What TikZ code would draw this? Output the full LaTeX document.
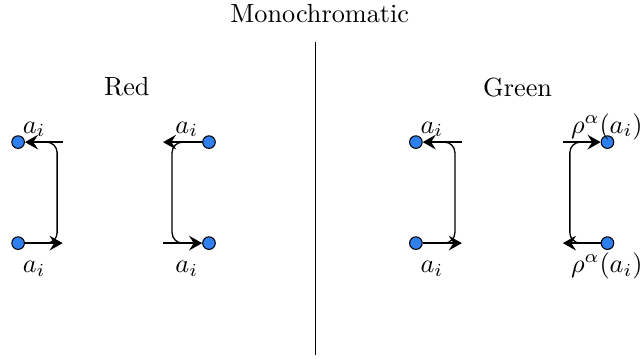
\documentclass[tikz,border=0pt]{standalone}
\usepackage{xcolor}
\usetikzlibrary{arrows.meta,positioning}
\definecolor{dotBlue}{HTML}{2F7FEF}
\tikzset{
  strand arrow/.style={-{Stealth[length=5pt,width=5.6pt,inset=1.8pt]},draw=black,line width=0.5pt},
  site dot/.style={circle,draw=black,fill=dotBlue,line width=0.4pt,
    inner sep=0pt,minimum size=4.8pt},
  bracket line/.style={draw=black,line width=0.5pt,rounded corners=4pt},
  site label/.style={anchor=base,inner sep=0pt}
}

\begin{document}
\begin{tikzpicture}[scale=0.933]
  \useasboundingbox (0,0) rectangle (9.23,5.14);
  \node (mono) at (4.59,4.95) {Monochromatic};
  \coordinate (divtop) at (4.53,4.53);
  \coordinate (divbot) at (4.53,0.04);
  \draw (divtop) -- (divbot);
  \node (red) at (1.82,3.89) {Red};
  \node (green) at (7.43,3.89) {Green};

  % red, left pair
  \node[site dot] (rlt) at (0.26,3.10) {};
  \node[site dot] (rlb) at (0.26,1.65) {};
  \coordinate (rltend) at (0.90,3.10);
  \coordinate (rlbend) at (0.90,1.65);
  \draw[bracket line] (0.68,3.10) -- (0.82,3.10) -- (0.82,1.65) -- (0.68,1.65);
  \draw[strand arrow] (rltend) -- (rlt);
  \draw[strand arrow] (rlb) -- (rlbend);
  \node[site label] (rltlab) at (0.49,3.23) {$a_i$};
  \node[site label] (rlblab) at (0.49,1.23) {$a_i$};

  % red, right pair
  \node[site dot] (rrt) at (3.00,3.10) {};
  \node[site dot] (rrb) at (3.00,1.65) {};
  \coordinate (rrtend) at (2.34,3.10);
  \coordinate (rrbend) at (2.34,1.65);
  \draw[bracket line] (2.62,3.10) -- (2.47,3.10) -- (2.47,1.65) -- (2.62,1.65);
  \draw[strand arrow] (rrt) -- (rrtend);
  \draw[strand arrow] (rrbend) -- (rrb);
  \node[site label] (rrtlab) at (2.68,3.23) {$a_i$};
  \node[site label] (rrblab) at (2.68,1.23) {$a_i$};

  % green, left pair
  \node[site dot] (glt) at (5.97,3.10) {};
  \node[site dot] (glb) at (5.97,1.65) {};
  \coordinate (gltend) at (6.63,3.10);
  \coordinate (glbend) at (6.63,1.65);
  \draw[bracket line] (6.39,3.10) -- (6.53,3.10) -- (6.53,1.65) -- (6.39,1.65);
  \draw[strand arrow] (gltend) -- (glt);
  \draw[strand arrow] (glb) -- (glbend);
  \node[site label] (gltlab) at (6.20,3.23) {$a_i$};
  \node[site label] (glblab) at (6.20,1.23) {$a_i$};

  % green, right pair
  \node[site dot] (grt) at (8.72,3.10) {};
  \node[site dot] (grb) at (8.72,1.65) {};
  \coordinate (grtend) at (8.08,3.10);
  \coordinate (grbend) at (8.08,1.65);
  \draw[bracket line] (8.32,3.10) -- (8.18,3.10) -- (8.18,1.65) -- (8.32,1.65);
  \draw[strand arrow] (grtend) -- (grt);
  \draw[strand arrow] (grb) -- (grbend);
  \node[site label] (grtlab) at (8.71,3.23) {$\rho^\alpha(a_i)$};
  \node[site label] (grblab) at (8.71,1.23) {$\rho^\alpha(a_i)$};
\end{tikzpicture}
\end{document}
